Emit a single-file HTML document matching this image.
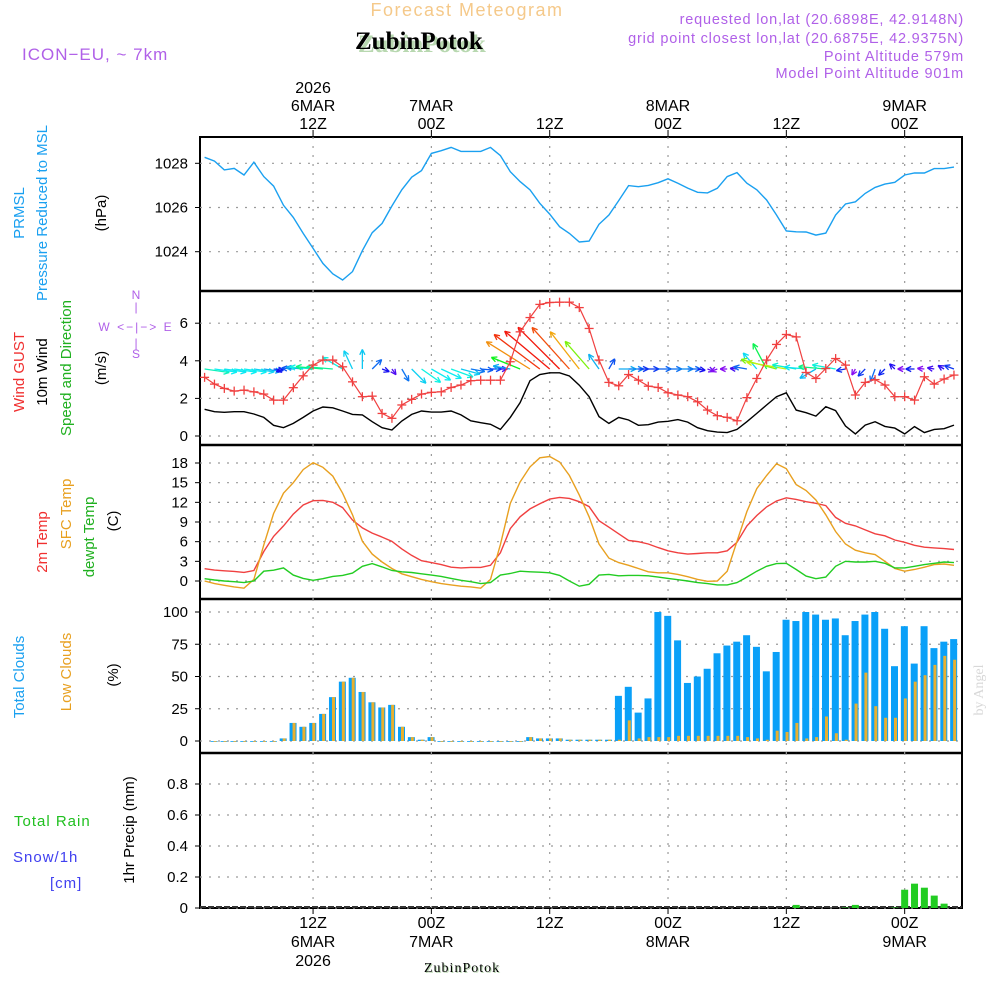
<!DOCTYPE html>
<html><head><meta charset="utf-8"><style>
html,body{margin:0;padding:0;background:#fff;}
svg{display:block;font-family:"Liberation Sans",sans-serif;}
</style></head><body>
<svg id="chart" width="1000" height="1000" viewBox="0 0 1000 1000" xmlns="http://www.w3.org/2000/svg">
<g>
<text x="467" y="16" text-anchor="middle" font-size="18" fill="#f5c98a" letter-spacing="1.5">Forecast Meteogram</text>
<text x="964" y="24" text-anchor="end" font-size="14.5" fill="#b060e8" letter-spacing="0.8">requested lon,lat (20.6898E, 42.9148N)</text>
<text x="964" y="43" text-anchor="end" font-size="14.5" fill="#b060e8" letter-spacing="0.8">grid point closest lon,lat (20.6875E, 42.9375N)</text>
<text x="964" y="61" text-anchor="end" font-size="14.5" fill="#b060e8" letter-spacing="0.8">Point Altitude 579m</text>
<text x="964" y="78" text-anchor="end" font-size="14.5" fill="#b060e8" letter-spacing="0.8">Model Point Altitude 901m</text>
<text x="358" y="52" font-size="25" font-weight="bold" fill="#b8d8b0" font-family="Liberation Serif,serif">ZubinPotok</text>
<text x="355" y="49" font-size="25" font-weight="bold" fill="#000" font-family="Liberation Serif,serif">ZubinPotok</text>
<text x="22" y="60" font-size="17" fill="#b060e8" letter-spacing="1">ICON−EU, ~ 7km</text>
</g>
<g id="frame"></g>
<g id="grid"></g>
<g id="marks"></g>
<g id="axes"></g>
<g font-size="15">
<text transform="translate(24,213) rotate(-90)" text-anchor="middle" fill="#1aa0f0">PRMSL</text>
<text transform="translate(47,213) rotate(-90)" text-anchor="middle" fill="#1aa0f0">Pressure Reduced to MSL</text>
<text transform="translate(106,213) rotate(-90)" text-anchor="middle" fill="#000">(hPa)</text>
<text transform="translate(24,372) rotate(-90)" text-anchor="middle" fill="#f03030">Wind GUST</text>
<text transform="translate(47,372) rotate(-90)" text-anchor="middle" fill="#000">10m Wind</text>
<text transform="translate(71,368) rotate(-90)" text-anchor="middle" fill="#20b020">Speed and Direction</text>
<text transform="translate(106,368) rotate(-90)" text-anchor="middle" fill="#000">(m/s)</text>
<g fill="#b060e8" font-size="12">
<text x="136" y="299" text-anchor="middle">N</text>
<text x="136" y="311" text-anchor="middle">|</text>
<text x="136" y="331" text-anchor="middle" letter-spacing="2">W &lt;−|−&gt; E</text>
<text x="136" y="347" text-anchor="middle">|</text>
<text x="136" y="358" text-anchor="middle">S</text>
</g>
<text transform="translate(47,542) rotate(-90)" text-anchor="middle" fill="#f03030">2m Temp</text>
<text transform="translate(71,514) rotate(-90)" text-anchor="middle" fill="#e8a020">SFC Temp</text>
<text transform="translate(94,537) rotate(-90)" text-anchor="middle" fill="#20b020">dewpt Temp</text>
<text transform="translate(118,521) rotate(-90)" text-anchor="middle" fill="#000">(C)</text>
<text transform="translate(24,677) rotate(-90)" text-anchor="middle" fill="#1aa0f0">Total Clouds</text>
<text transform="translate(71,672) rotate(-90)" text-anchor="middle" fill="#e8a020">Low Clouds</text>
<text transform="translate(118,675) rotate(-90)" text-anchor="middle" fill="#000">(%)</text>
<text x="14" y="826" fill="#20c020" letter-spacing="1">Total  Rain</text>
<text x="13" y="862" fill="#4040f0" letter-spacing="1">Snow/1h</text>
<text x="50" y="888" fill="#4040f0" letter-spacing="1">[cm]</text>
<text transform="translate(134,830) rotate(-90)" text-anchor="middle" fill="#000">1hr Precip (mm)</text>
</g>
<text x="425" y="973" font-size="14" fill="#b8d8b0" font-family="Liberation Serif,serif" letter-spacing="1">ZubinPotok</text>
<text x="424" y="972" font-size="14" fill="#000" font-family="Liberation Serif,serif" letter-spacing="1">ZubinPotok</text>
<text transform="translate(983,690) rotate(-90)" text-anchor="middle" font-size="14" fill="#d8d8d8" font-family="Liberation Serif,serif">by Angel</text>
</svg>
<script>
const hours=[];for(let h=1;h<=77;h++)hours.push(h);
const pressure=[1028.27,1028.1,1027.7,1027.77,1027.47,1028.05,1027.4,1026.97,1026.1,1025.55,1024.83,1024.15,1023.47,1023.0,1022.72,1023.1,1024.05,1024.86,1025.28,1026.07,1026.8,1027.37,1027.67,1028.45,1028.57,1028.72,1028.54,1028.54,1028.54,1028.72,1028.35,1027.62,1027.17,1026.8,1026.19,1025.7,1025.13,1024.83,1024.44,1024.48,1025.24,1025.66,1026.31,1026.99,1026.94,1027.0,1027.12,1027.3,1027.1,1026.88,1026.69,1026.66,1026.87,1027.4,1027.58,1027.1,1026.8,1026.34,1025.66,1024.94,1024.9,1024.89,1024.75,1024.84,1025.66,1026.16,1026.26,1026.64,1026.91,1027.06,1027.14,1027.47,1027.56,1027.56,1027.76,1027.76,1027.83];
const windSpeed=[1.42,1.29,1.26,1.29,1.29,1.17,0.99,0.57,0.44,0.67,0.99,1.33,1.54,1.5,1.33,1.15,1.12,0.76,0.44,0.32,0.8,1.15,1.33,1.27,1.27,1.33,1.12,0.81,0.71,0.62,0.35,0.99,1.77,2.94,3.27,3.36,3.36,3.19,2.7,2.09,1.03,0.67,0.99,0.85,0.57,0.6,0.74,0.78,0.87,0.74,0.44,0.28,0.21,0.18,0.35,0.76,1.2,1.65,2.09,2.3,1.38,1.24,1.06,1.56,1.35,0.53,0.11,0.58,0.76,0.51,0.42,0.11,0.5,0.18,0.35,0.39,0.58];
const windGust=[3.12,2.76,2.53,2.39,2.44,2.35,2.23,1.91,1.91,2.57,3.2,3.77,4.04,4.04,3.68,2.88,2.09,2.12,1.2,0.94,1.65,1.95,2.23,2.32,2.35,2.58,2.71,2.94,2.97,2.97,2.97,3.95,5.54,6.3,7.0,7.1,7.12,7.12,6.83,5.72,4.04,2.85,2.67,3.27,2.97,2.65,2.58,2.3,2.18,2.09,1.82,1.38,1.08,0.99,0.81,2.04,3.06,4.04,4.87,5.4,5.27,3.38,3.06,3.59,4.12,3.77,2.18,2.85,3.0,2.71,2.09,2.09,1.91,3.15,2.76,3.03,3.24];
const windDir=[-8,-8,-8,-8,-8,-8,-8,-8,200,175,175,175,175,175,150,115,90,45,-20,-55,-60,-45,-35,-30,-25,-20,-15,-10,-5,0,0,170,158,148,143,140,135,132,128,131,125,60,0,0,0,0,0,0,0,0,-10,-20,200,180,175,170,130,118,165,170,170,175,210,175,170,190,240,225,250,225,135,180,180,175,170,150,160];
const temp2m=[1.87,1.66,1.56,1.46,1.31,1.6,4.5,6.8,8.4,10.2,11.6,12.25,12.3,12.0,11.2,9.3,8.1,7.3,6.7,6.05,4.9,3.9,3.1,2.8,2.5,2.1,2.0,2.07,2.07,2.4,4.3,8.0,9.8,11.0,11.8,12.5,12.75,12.6,12.1,11.35,9.2,8.2,7.2,6.2,6.0,5.65,5.1,4.6,4.3,4.1,4.2,4.3,4.3,4.6,5.9,8.4,10.0,11.3,12.2,12.7,12.45,12.1,11.85,11.5,9.7,8.8,8.4,7.8,7.2,6.9,6.25,5.9,5.45,5.15,5.05,4.95,4.8];
const tempSfc=[0,-0.4,-0.65,-0.9,-1.1,0.25,5.5,10.3,13.4,15,17,18.05,17.35,16,13.4,10.1,6.05,4.1,2.9,1.9,1.1,0.65,0.25,-0.1,-0.4,-0.6,-0.8,-0.9,-1.1,0.25,5.55,11.85,15.1,17.4,18.8,19.0,18.15,16.1,13.1,9.8,5.65,3.5,2.8,2.4,1.9,1.4,1.25,1.25,1.0,0.65,0.25,-0.05,0,1.5,6.05,10.6,14.1,16.1,17.9,17.15,14.7,13.8,12.35,10.1,7.55,5.65,4.7,4.3,4.05,3.0,1.9,1.5,1.75,2.1,2.5,2.6,2.4];
const tempDew=[0.35,0.15,0,-0.1,-0.25,0,1.5,1.65,2.0,0.9,0.4,0.1,0.35,0.7,0.85,1.2,2.25,2.65,2.15,1.6,1.4,1.3,1.1,0.9,0.7,0.4,0.1,-0.1,-0.4,-0.25,0.9,1.15,1.5,1.4,1.35,1.25,0.85,0,-0.8,-0.5,0.9,1.0,0.8,0.85,0.85,0.8,0.6,0.4,0.2,0,-0.25,-0.4,-0.6,-0.6,-0.25,0.6,1.5,2.25,2.65,2.7,1.75,0.75,0.35,0.6,2.25,3.0,2.9,2.9,3.0,2.7,2.0,2.0,2.25,2.5,2.7,2.9,2.8];
const cloudHours=[];for(let h=2;h<=77;h++)cloudHours.push(h);
const totalClouds=[0,0,0,0,0,0,0,2,14,11,14,21,34,46,49,38,30,26,28,11,3,1,3,0,0,0,0,0,0,0,0,0,3,2,2,2,1,1,1,1,1,35,42,22,33,100,97,78,45,50,56,68,74,77,82,73,54,69,94,93,100,98,94,95,82,93,98,100,87,58,89,60,89,72,77,79];
const lowClouds=[0,0,0,0,0,0,0,2,14,11,14,21,34,46,49,38,30,26,28,11,3,1,3,0,0,0,0,0,0,0,0,0,3,2,2,2,1,1,1,1,1,1,16,2,3,3,3,4,4,4,4,4,4,4,3,2,1,8,7,14,2,3,19,6,1,29,53,27,18,18,33,46,51,59,66,63];
const precip=[0,0,0,0,0,0,0,0,0,0,0,0,0,0,0,0,0,0,0,0,0,0,0,0,0,0,0,0,0,0,0,0,0,0,0,0,0,0,0,0,0,0,0,0,0,0,0,0,0,0,0,0,0,0,0,0,0,0,0,0,0.02,0,0,0,0,0.003,0.02,0,0,0,0.003,0.118,0.157,0.131,0.08,0.028];
const pTicks=[1024,1026,1028];
const wTicks=[0,2,4,6];
const tTicks=[0,3,6,9,12,15,18];
const cTicks=[0,25,50,75,100];
const rTicks=[0,0.2,0.4,0.6,0.8];
const timeTicks=[12,24,36,48,60,72];
const topLabels=[["2026","6MAR","12Z"],["","7MAR","00Z"],["","","12Z"],["","8MAR","00Z"],["","","12Z"],["","9MAR","00Z"]];
const botLabels=[["12Z","6MAR","2026"],["00Z","7MAR",""],["12Z","",""],["00Z","8MAR",""],["12Z","",""],["00Z","9MAR",""]];

const NS="http://www.w3.org/2000/svg";
const L=200,R=962;
const x=t=>194.74+9.86*t;
const yP=p=>163.3+(1028-p)*22.1;
const yW=w=>436-w*18.8;
const yT=c=>581-c*6.555;
const yC=c=>741-c*1.29;
const yR=r=>908-r*155;
const panels=[[137,291],[291,445],[445,599],[599,753],[753,908]];
function mk(tag,attrs,parent){const e=document.createElementNS(NS,tag);for(const k in attrs)e.setAttribute(k,attrs[k]);parent.appendChild(e);return e;}
const G=document.getElementById('grid'),M=document.getElementById('marks'),A=document.getElementById('axes'),F=document.getElementById('frame');
const defs=mk('defs',{},document.getElementById('chart'));
panels.forEach((p,i)=>{const c=mk('clipPath',{id:'clip'+i},defs);mk('rect',{x:L,y:p[0],width:R-L,height:p[1]-p[0]},c);});
const gdash={stroke:'#9a9a9a','stroke-width':1.2,'stroke-dasharray':'2,7',fill:'none'};
timeTicks.forEach(t=>{panels.forEach(p=>{const l=mk('line',Object.assign({x1:x(t),x2:x(t),y1:p[0],y2:p[1]},gdash),G);

});});
function hgrid(ticks,fy){ticks.forEach(v=>{const l=mk('line',Object.assign({x1:L,x2:R,y1:fy(v),y2:fy(v)},gdash),G);

});}
hgrid(pTicks,yP);hgrid(wTicks,yW);hgrid(tTicks,yT);hgrid(cTicks,yC);hgrid(rTicks,yR);
function yticks(ticks,fy,fmt){ticks.forEach(v=>{const y=fy(v);mk('line',{x1:L-5,x2:L,y1:y,y2:y,stroke:'#000'},A);
const tx=mk('text',{x:L-12,y:y+5,'text-anchor':'end','font-size':15,fill:'#000'},A);tx.textContent=fmt(v);

});}
yticks(pTicks,yP,v=>String(v));yticks(wTicks,yW,v=>String(v));yticks(tTicks,yT,v=>String(v));yticks(cTicks,yC,v=>String(v));yticks(rTicks,yR,v=>v===0?'0':v.toFixed(1));
timeTicks.forEach((t,i)=>{const xx=x(t);mk('line',{x1:xx,x2:xx,y1:130,y2:137,stroke:'#000'},A);mk('line',{x1:xx,x2:xx,y1:908,y2:914,stroke:'#000'},A);
topLabels[i].forEach((s,j)=>{if(!s)return;const tx=mk('text',{x:xx,y:93+j*18,'text-anchor':'middle','font-size':16,fill:'#000'},A);tx.textContent=s;

});
botLabels[i].forEach((s,j)=>{if(!s)return;const tx=mk('text',{x:xx,y:928+j*19,'text-anchor':'middle','font-size':16,fill:'#000'},A);tx.textContent=s;

});});
mk('rect',{x:L,y:137,width:R-L,height:771,fill:'none',stroke:'#000','stroke-width':2},F);
[291,445,599,753].forEach(y=>{const l=mk('line',{x1:L,x2:R,y1:y,y2:y,stroke:'#000','stroke-width':2.5},F);

});
function line(vals,ts,fy,color,clip,name,w){const d=vals.map((v,i)=>(i?'L':'M')+x(ts[i]).toFixed(1)+','+fy(v).toFixed(1)).join('');
const p=mk('path',{d:d,fill:'none',stroke:color,'stroke-width':w||1.4,'clip-path':'url(#clip'+clip+')'},M);

return p;}
line(pressure,hours,yP,'#1aa0f0',0,'pressure-line');
function speedHue(s){const st=[[0.2,272],[0.5,235],[0.9,205],[1.3,180],[1.8,120],[2.1,90],[2.7,40],[3.0,32],[3.3,8],[3.4,0]];
if(s<=st[0][0])return st[0][1];for(let i=1;i<st.length;i++){if(s<=st[i][0]){const a=st[i-1],b=st[i];return a[1]+(b[1]-a[1])*(s-a[0])/(b[0]-a[0]);}}return 0;}
windDir.forEach((dg,i)=>{const s=windSpeed[i];const len=Math.max(7,s*17.5);const a=dg*Math.PI/180;
const x1=x(hours[i]),y1=369;const x2=x1+Math.cos(a)*len,y2=y1-Math.sin(a)*len;
const col='hsl('+speedHue(s).toFixed(0)+',90%,50%)';
const g=mk('g',{stroke:col,'stroke-width':1.3,fill:'none','clip-path':'url(#clip1)'},M);


mk('line',{x1:x1,y1:y1,x2:x2,y2:y2},g);
const h=6;[0.45,-0.45].forEach(o=>{const b=a+Math.PI+o;mk('line',{x1:x2,y1:y2,x2:x2+Math.cos(b)*h,y2:y2-Math.sin(b)*h},g);});});
line(windSpeed,hours,yW,'#000',1,'wind-speed-line');
line(windGust,hours,yW,'#f04040',1,'wind-gust-line',1.2);
windGust.forEach((v,i)=>{const cx=x(hours[i]),cy=yW(v);const g=mk('g',{stroke:'#f04040','stroke-width':1.3},M);


mk('line',{x1:cx-4.5,x2:cx+4.5,y1:cy,y2:cy},g);mk('line',{x1:cx,x2:cx,y1:cy-4.5,y2:cy+4.5},g);});
line(temp2m,hours,yT,'#f04040',2,'temp-2m-line');
line(tempSfc,hours,yT,'#e8a020',2,'temp-sfc-line');
line(tempDew,hours,yT,'#22cc22',2,'dewpoint-line');
totalClouds.forEach((v,i)=>{const xx=x(cloudHours[i]);const r=mk('rect',{x:xx-3.8,y:yC(v),width:7,height:Math.max(0.8,yC(0)-yC(v)),fill:'#0aa0f8','clip-path':'url(#clip3)'},M);

});
lowClouds.forEach((v,i)=>{const xx=x(cloudHours[i]);const r=mk('rect',{x:xx-0.8,y:yC(v),width:3,height:Math.max(0.8,yC(0)-yC(v)),fill:'#e8b030','clip-path':'url(#clip3)'},M);

});
mk('line',{x1:L,x2:R,y1:907,y2:907,stroke:'#333','stroke-width':2,'stroke-dasharray':'6,2'},M);
precip.forEach((v,i)=>{if(v<=0)return;const xx=x(hours[i]);const r=mk('rect',{x:xx-3.5,y:yR(v),width:7,height:yR(0)-yR(v),fill:'#22cc22','clip-path':'url(#clip4)'},M);

});
</script>
</body></html>
